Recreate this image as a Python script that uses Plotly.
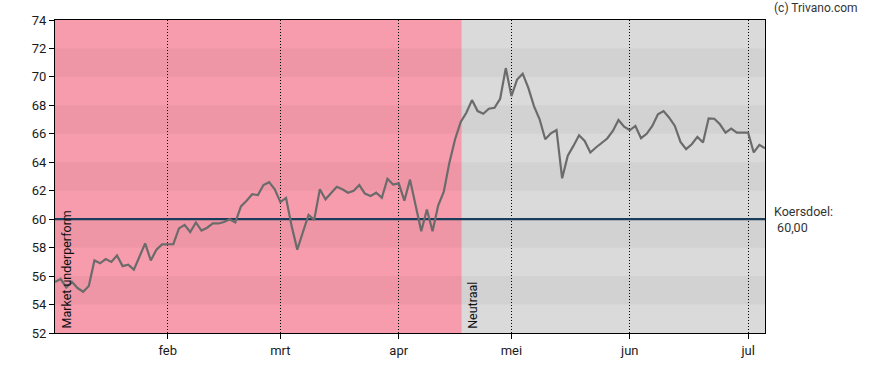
import pandas as pd
import plotly.graph_objects as go

# ---- data -------------------------------------------------------------
holidays = ["2025-04-18", "2025-04-21", "2025-05-01"]
dates = [d.strftime("%Y-%m-%d") for d in pd.bdate_range("2025-01-06", "2025-07-04")
         if d.strftime("%Y-%m-%d") not in holidays]

prices = [
    55.58, 55.80, 55.20, 55.60, 55.16, 54.90, 55.30, 57.10, 56.90, 57.20,
    57.00, 57.45, 56.70, 56.80, 56.45, 57.40, 58.30, 57.10, 57.85, 58.23,
    58.23, 58.25, 59.35, 59.60, 59.10, 59.77, 59.20, 59.40, 59.70, 59.70,
    59.80, 60.00, 59.77, 60.90, 61.30, 61.75, 61.70, 62.40, 62.60, 62.10,
    61.20, 61.50, 59.50, 57.86, 59.10, 60.30, 59.95, 62.10, 61.40, 61.86,
    62.28, 62.10, 61.86, 62.00, 62.40, 61.80, 61.63, 61.86, 61.50, 62.84,
    62.44, 62.52, 61.30, 62.78, 60.96, 59.15, 60.68, 59.15, 60.96, 61.94,
    63.99, 65.62, 66.83, 67.48, 68.37, 67.60, 67.41, 67.76, 67.83, 68.46,
    70.62, 68.65, 69.81, 70.23, 69.23, 67.95, 67.02, 65.62, 66.04, 66.27,
    62.87, 64.46, 65.15, 65.90, 65.50, 64.69, 65.04, 65.38, 65.67, 66.20,
    66.97, 66.50, 66.25, 66.55, 65.69, 66.00, 66.55, 67.37, 67.60, 67.13,
    66.55, 65.43, 64.92, 65.27, 65.78, 65.39, 67.09, 67.06, 66.67, 66.08,
    66.36, 66.08, 66.06, 66.08, 64.69, 65.22, 64.99,
]

target_price = 60.0
target_label = "Koersdoel:<br> 60,00"

advice_labels = ["Market underperform", "Neutraal"]
advice_start = [0, 72.2]          # trading-day index where each advice period starts
advice_colors = ["#F79CAC", "#DADADA"]

tick_dates = ["2025-02-03", "2025-03-03", "2025-04-01", "2025-05-02", "2025-06-02", "2025-07-01"]
tick_labels = ["feb", "mrt", "apr", "mei", "jun", "jul"]

y_min, y_max = 52, 74

# ---- figure -----------------------------------------------------------
FONT = "Roboto"
n = len(dates)
fig = go.Figure()

fig.add_trace(go.Scatter(x=dates, y=[target_price] * n,
                         mode="lines", line=dict(color="#1B3D5C", width=2.2),
                         hoverinfo="skip", showlegend=False))
fig.add_trace(go.Scatter(x=dates, y=prices, mode="lines",
                         line=dict(color="#6B6B6B", width=2.2),
                         showlegend=False))

shapes = []
ends = advice_start[1:] + [n - 1]
for s, e, c in zip(advice_start, ends, advice_colors):
    shapes.append(dict(type="rect", xref="x", yref="y", x0=s, x1=e, y0=y_min, y1=y_max,
                       fillcolor=c, line=dict(width=0), layer="below"))
for y0 in range(54, y_max, 4):
    shapes.append(dict(type="rect", xref="x", yref="y", x0=0, x1=n - 1, y0=y0, y1=y0 + 2,
                       fillcolor="rgba(0,0,0,0.035)", line=dict(width=0), layer="below"))

annotations = []
for s, lab in zip(advice_start, advice_labels):
    annotations.append(dict(x=s, y=y_min, xref="x", yref="y", text=lab, textangle=-90,
                            showarrow=False, xanchor="left", yanchor="bottom",
                            xshift=1, yshift=2,
                            font=dict(family=FONT, size=12.5, color="#111")))
annotations.append(dict(x=1, y=target_price, xref="paper", yref="y", text=target_label,
                        showarrow=False, xanchor="left", yanchor="middle", align="left",
                        xshift=7, font=dict(family=FONT, size=12.5, color="#333")))
annotations.append(dict(x=1, y=1, xref="paper", yref="paper", text="(c) Trivano.com",
                        showarrow=False, xanchor="left", yanchor="bottom", align="left",
                        xshift=7, yshift=3, font=dict(family=FONT, size=12, color="#333")))

fig.update_layout(
    width=888, height=370,
    margin=dict(l=55, r=123, t=20, b=35),
    paper_bgcolor="white", plot_bgcolor="white",
    shapes=shapes, annotations=annotations,
    font=dict(family=FONT, size=12, color="#1a1a1a"),
    xaxis=dict(type="category", categoryorder="array", categoryarray=dates,
               range=[0, n - 1], tickvals=tick_dates, ticktext=tick_labels,
               showgrid=True, gridcolor="black", griddash="1px,2px", gridwidth=1,
               ticks="outside", ticklen=5, tickcolor="black",
               showline=True, linecolor="black", linewidth=1, mirror=True,
               tickfont=dict(family=FONT, size=13, color="#1a1a1a")),
    yaxis=dict(range=[y_min, y_max], dtick=2, showgrid=False, zeroline=False,
               ticks="outside", ticklen=5, tickcolor="black",
               showline=True, linecolor="black", linewidth=1, mirror=True,
               tickfont=dict(family=FONT, size=13, color="#1a1a1a")),
)

fig.write_html("out.html", config={"displayModeBar": False},
               post_script="document.body.style.margin='0';")
